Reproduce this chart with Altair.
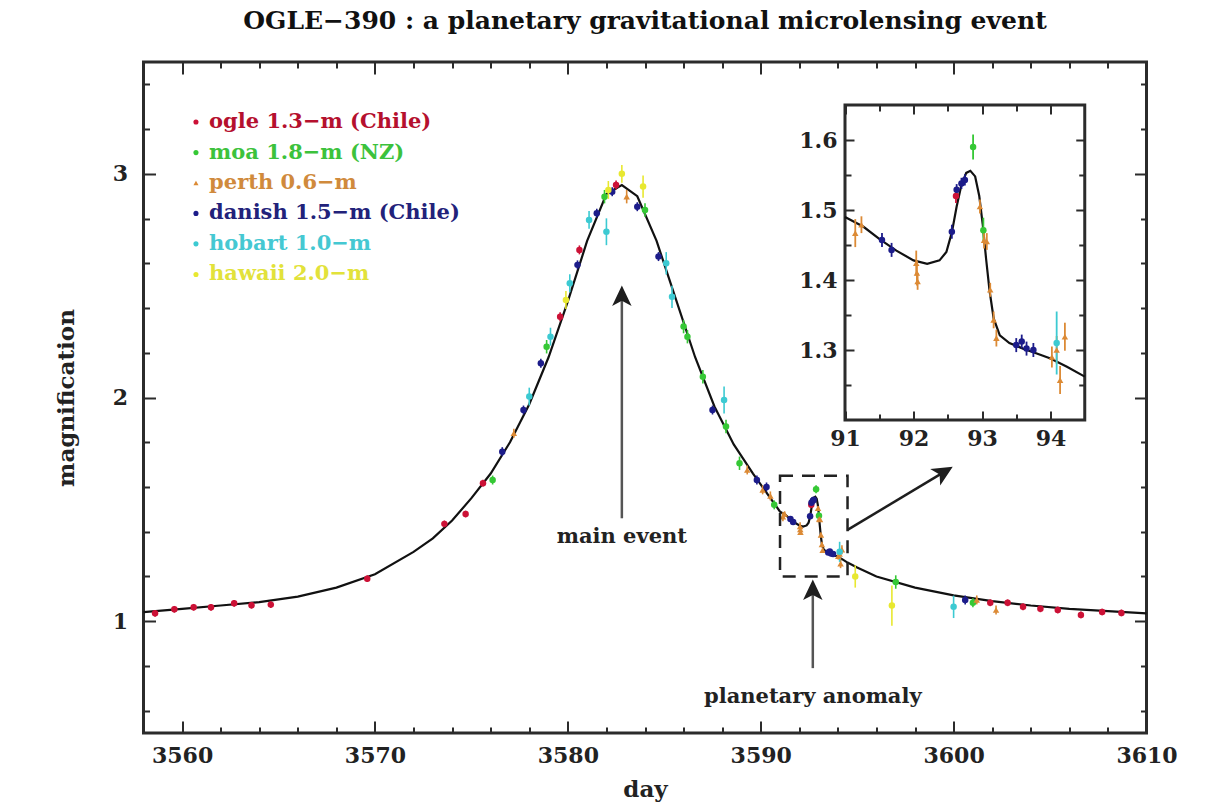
import altair as alt
import pandas as pd

TITLE = "OGLE\u2212390 : a planetary gravitational microlensing event"

series_names = ["ogle", "moa", "perth", "danish", "hobart", "hawaii"]
series_labels = ["ogle 1.3\u2212m (Chile)", "moa 1.8\u2212m (NZ)", "perth 0.6\u2212m",
                 "danish 1.5\u2212m (Chile)", "hobart 1.0\u2212m", "hawaii 2.0\u2212m"]
series_colors = ["#cc1136", "#35c835", "#dc8a35", "#1c1c8a", "#3ccad2", "#e8e830"]
label_colors = ["#b5102e", "#3cc23c", "#d08a3c", "#22227a", "#45c8d2", "#e2e23a"]
series_shapes = ["circle", "circle", "triangle-up", "circle", "circle", "circle"]

ogle_x = [3558.6, 3559.6, 3560.6, 3561.5, 3562.7, 3563.6, 3564.6, 3569.6, 3573.6, 3574.7, 3575.6, 3579.6,
          3580.6, 3582.5, 3592.62, 3601.9, 3602.8, 3603.6, 3604.5, 3605.4, 3606.6, 3607.7, 3608.7]
ogle_y = [1.035, 1.053, 1.062, 1.062, 1.080, 1.071, 1.074, 1.19, 1.435, 1.479, 1.617, 2.361,
          2.66, 2.95, 1.52, 1.082, 1.082, 1.064, 1.055, 1.05, 1.028, 1.041, 1.037]
ogle_e = [0.015, 0.015, 0.015, 0.015, 0.015, 0.015, 0.015, 0.015, 0.015, 0.015, 0.015, 0.02,
          0.02, 0.02, 0.01, 0.015, 0.015, 0.015, 0.015, 0.015, 0.015, 0.015, 0.015]

moa_x = [3576.1, 3578.9, 3581.9, 3584.0, 3586.0, 3586.2, 3587.0, 3588.2, 3588.9, 3590.7, 3592.87, 3593.02, 3597.0, 3601.0]
moa_y = [1.631, 2.227, 2.898, 2.838, 2.317, 2.272, 2.093, 1.87, 1.706, 1.52, 1.59, 1.471, 1.175, 1.082]
moa_e = [0.02, 0.03, 0.03, 0.03, 0.03, 0.03, 0.03, 0.03, 0.03, 0.02, 0.018, 0.018, 0.03, 0.02]

perth_x = [3577.2, 3583.05, 3589.3, 3590.1, 3590.5, 3591.15, 3591.24, 3592.04, 3592.05, 3592.06, 3592.97,
           3593.03, 3593.07, 3593.12, 3593.17, 3593.21, 3594.02, 3594.09, 3594.14, 3594.21, 3601.2, 3602.2]
perth_y = [1.84, 2.898, 1.676, 1.587, 1.56, 1.467, 1.479, 1.424, 1.41, 1.398, 1.505,
           1.457, 1.455, 1.386, 1.343, 1.317, 1.29, 1.30, 1.257, 1.319, 1.095, 1.05]
perth_e = [0.02, 0.03, 0.02, 0.02, 0.02, 0.02, 0.012, 0.018, 0.018, 0.012, 0.01,
           0.012, 0.012, 0.01, 0.012, 0.012, 0.015, 0.02, 0.02, 0.02, 0.02, 0.02]

danish_x = [3576.6, 3577.7, 3578.6, 3580.5, 3581.5, 3582.3, 3583.6, 3584.7, 3587.5, 3589.8, 3590.3,
            3591.54, 3591.68, 3592.56, 3592.63, 3592.70, 3592.75, 3593.5, 3593.58, 3593.65, 3593.75, 3600.6]
danish_y = [1.758, 1.944, 2.153, 2.593, 2.824, 2.92, 2.853, 2.63, 1.944, 1.631, 1.6,
            1.457, 1.443, 1.469, 1.529, 1.538, 1.543, 1.307, 1.312, 1.302, 1.30, 1.095]
danish_e = [0.02, 0.02, 0.02, 0.02, 0.02, 0.02, 0.02, 0.02, 0.02, 0.02, 0.02,
            0.01, 0.01, 0.01, 0.008, 0.008, 0.008, 0.01, 0.01, 0.01, 0.01, 0.02]

hobart_x = [3578.0, 3579.1, 3580.1, 3581.1, 3582.0, 3585.1, 3585.4, 3588.1, 3594.09, 3600.0]
hobart_y = [2.004, 2.272, 2.511, 2.794, 2.741, 2.60, 2.45, 1.989, 1.31, 1.064]
hobart_e = [0.04, 0.04, 0.04, 0.04, 0.06, 0.05, 0.05, 0.06, 0.045, 0.05]

hawaii_x = [3579.9, 3582.1, 3582.8, 3583.9, 3594.9, 3596.8]
hawaii_y = [2.436, 2.928, 3.0, 2.943, 1.2, 1.07]
hawaii_e = [0.04, 0.04, 0.04, 0.05, 0.05, 0.09]

curve_x = [3558, 3560, 3562, 3564, 3566, 3568, 3570, 3572, 3573, 3574, 3575, 3576, 3577, 3578, 3579, 3580,
           3581, 3582, 3582.8, 3583.6, 3584.6, 3585.6, 3586.6, 3587.6, 3588.6, 3589.6, 3590.5, 3591.0,
           3591.27, 3591.51, 3591.75, 3592.0, 3592.2, 3592.38, 3592.48, 3592.56, 3592.63, 3592.70, 3592.77,
           3592.83, 3592.90, 3592.96, 3593.01, 3593.06, 3593.11, 3593.17, 3593.26, 3593.4, 3593.6, 3593.8,
           3594.0, 3594.24, 3594.5, 3595, 3596, 3598, 3600, 3602, 3604, 3606, 3608, 3610]
curve_y = [1.04, 1.055, 1.07, 1.085, 1.11, 1.15, 1.21, 1.31, 1.37, 1.45, 1.55, 1.66, 1.80, 1.97, 2.18, 2.43,
           2.70, 2.91, 2.95, 2.90, 2.70, 2.44, 2.18, 1.96, 1.79, 1.66, 1.55, 1.49,
           1.476, 1.458, 1.442, 1.428, 1.423, 1.428, 1.44, 1.468, 1.505, 1.536, 1.553,
           1.556, 1.548, 1.52, 1.48, 1.43, 1.385, 1.345, 1.321, 1.31, 1.302, 1.295,
           1.288, 1.276, 1.262, 1.24, 1.20, 1.15, 1.115, 1.09, 1.07, 1.055, 1.045, 1.035]

x_major = [3560, 3570, 3580, 3590, 3600, 3610]
x_minor = [3562, 3564, 3566, 3568, 3572, 3574, 3576, 3578, 3582, 3584, 3586, 3588, 3592, 3594, 3596, 3598,
           3602, 3604, 3606, 3608]
y_major = [1, 2, 3]
y_minor = [0.6, 0.8, 1.2, 1.4, 1.6, 1.8, 2.2, 2.4, 2.6, 2.8, 3.2, 3.4]
ix_major = [91, 92, 93, 94]
ix_minor = [91.5, 92.5, 93.5]
iy_major = [1.3, 1.4, 1.5, 1.6]
iy_minor = [1.25, 1.35, 1.45, 1.55]

legend_marker_x = [3560.72]
legend_text_x = [3561.4]
legend_y = [3.232, 3.095, 2.959, 2.823, 2.687, 2.55]

ann_text = ["main event", "planetary anomaly"]
ann_text_x = [3582.8, 3592.7]
ann_text_y = [1.377, 0.661]
arrow_x = [3582.8, 3592.7]
arrow_y0 = [1.46, 0.79]
arrow_y1 = [2.44, 1.12]
head_x = [3582.8, 3592.7, 3599.5]
head_y = [2.455, 1.14, 1.667]
head_angle = [0, 0, 59]
link_x = [3594.5, 3599.6]
link_y = [1.408, 1.672]
box_x = [3591.0, 3594.5]
box_y = [1.2, 1.65]
inset_box_x = [91.0, 94.5]
inset_box_y = [1.2, 1.65]

# ---------------------------------------------------------------- layout
W, H = 1003, 671
IX0, IX1 = 701.5, 941.25
IY0, IY1 = 358, 43
FONT = "DejaVu Serif"
INK = "#2b2b2b"

rows = []
for name, xs, ys, es in zip(series_names,
                            [ogle_x, moa_x, perth_x, danish_x, hobart_x, hawaii_x],
                            [ogle_y, moa_y, perth_y, danish_y, hobart_y, hawaii_y],
                            [ogle_e, moa_e, perth_e, danish_e, hobart_e, hawaii_e]):
    for x, y, e in zip(xs, ys, es):
        rows.append({"series": name, "x": x, "y": y, "e": e})
pts = pd.DataFrame(rows)
curve = pd.DataFrame({"x": curve_x, "y": curve_y})

XS = alt.Scale(domain=[3558, 3610], nice=False, zero=False)
YS = alt.Scale(domain=[0.5, 3.5], nice=False, zero=False)
IXS = alt.Scale(domain=[91, 94.5], range=[IX0, IX1], nice=False, zero=False)
IYS = alt.Scale(domain=[1.2, 1.65], range=[IY0, IY1], nice=False, zero=False)
CS = alt.Scale(domain=series_names, range=series_colors)
SS = alt.Scale(domain=series_names, range=series_shapes)


def X(f, s=XS):
    return alt.X(f, type="quantitative", scale=s, axis=None)


def Y(f, s=YS):
    return alt.Y(f, type="quantitative", scale=s, axis=None)


def axis_layer(ch, values, scale, orient, ts, shift=0, labels=False, title="", fmt="", zindex=0,
               lpad=8, tpad=10):
    kw = dict(orient=orient, values=values, tickSize=ts, offset=-(shift + ts), domain=False, grid=False,
              labels=labels, ticks=True, tickColor=INK, tickWidth=2, zindex=zindex)
    if labels:
        kw.update(labelFont=FONT, labelFontSize=22, labelFontWeight="bold", labelColor="#222",
                  labelPadding=lpad, labelFlush=False, labelOverlap=False)
    if fmt:
        kw["format"] = fmt
    if title:
        kw.update(titleFont=FONT, titleFontSize=23, titleFontWeight="bold", titleColor="#222",
                  titlePadding=tpad)
    df = pd.DataFrame({"v": values})
    if ch == "x":
        enc = {"x": alt.X("v:Q", scale=scale, axis=alt.Axis(**kw), title=title)}
    else:
        enc = {"y": alt.Y("v:Q", scale=scale, axis=alt.Axis(**kw), title=title)}
    return alt.Chart(df).mark_point(opacity=0).encode(**enc)


# ---------------------------------------------------------------- main panel
curve_line = alt.Chart(curve).mark_line(color="#111", strokeWidth=2.2).encode(x=X("x"), y=Y("y"), order="x:Q")

err = alt.Chart(pts).transform_calculate(lo="datum.y - datum.e", hi="datum.y + datum.e").mark_rule(
    strokeWidth=1.6).encode(x=X("x"), y=Y("lo"), y2="hi:Q",
                            color=alt.Color("series:N", scale=CS, legend=None))
dots = alt.Chart(pts).mark_point(filled=True, size=42, opacity=1).encode(
    x=X("x"), y=Y("y"), color=alt.Color("series:N", scale=CS, legend=None),
    shape=alt.Shape("series:N", scale=SS, legend=None))

leg = pd.DataFrame({"series": series_names, "label": series_labels, "ly": legend_y,
                    "mx": legend_marker_x * 6, "tx": legend_text_x * 6})
leg_marks = alt.Chart(leg).mark_point(filled=True, size=26, opacity=1).encode(
    x=X("mx"), y=Y("ly"), color=alt.Color("series:N", scale=CS, legend=None),
    shape=alt.Shape("series:N", scale=SS, legend=None))
leg_text = alt.Chart(leg).mark_text(align="left", baseline="middle", font=FONT, fontSize=21,
                                    fontWeight="bold").encode(
    x=X("tx"), y=Y("ly"), text="label:N",
    color=alt.Color("series:N", scale=alt.Scale(domain=series_names, range=label_colors), legend=None))

ann = pd.DataFrame({"t": ann_text, "x": ann_text_x, "y": ann_text_y})
ann_layer = alt.Chart(ann).mark_text(font=FONT, fontSize=21, fontWeight="bold", color="#222",
                                     baseline="middle").encode(x=X("x"), y=Y("y"), text="t:N")
arr = pd.DataFrame({"x": arrow_x, "y0": arrow_y0, "y1": arrow_y1})
arr_layer = alt.Chart(arr).mark_rule(color="#555", strokeWidth=2.5).encode(x=X("x"), y=Y("y0"), y2="y1:Q")
heads = pd.DataFrame({"x": head_x, "y": head_y, "a": head_angle})
ARROW = "M0,-1L0.95,1L0,0.5L-0.95,1Z"
head_layer = alt.Chart(heads).mark_point(shape=ARROW, filled=True, size=420, color="#1e1e1e",
                                         opacity=1).encode(
    x=X("x"), y=Y("y"), angle=alt.Angle("a:Q", scale=None))
link = pd.DataFrame({"x": link_x, "y": link_y})
link_layer = alt.Chart(link).mark_line(color="#1e1e1e", strokeWidth=2.5).encode(x=X("x"), y=Y("y"))
box = pd.DataFrame({"x": [box_x[0]], "x2": [box_x[1]], "y": [box_y[0]], "y2": [box_y[1]]})
box_layer = alt.Chart(box).mark_rect(fillOpacity=0, stroke="#222", strokeWidth=2.5,
                                     strokeDash=[13, 9]).encode(
    x=X("x"), x2="x2:Q", y=Y("y"), y2="y2:Q")

main_axes = [
    axis_layer("x", x_major, XS, "bottom", 12, labels=True, title="day", fmt="d", lpad=12, tpad=12),
    axis_layer("x", x_minor, XS, "bottom", 6),
    axis_layer("x", x_major, XS, "top", 12),
    axis_layer("x", x_minor, XS, "top", 6),
    axis_layer("y", y_major, YS, "left", 12, labels=True, title="magnification", fmt="d", lpad=16, tpad=34),
    axis_layer("y", y_minor, YS, "left", 6),
    axis_layer("y", y_major, YS, "right", 12),
    axis_layer("y", y_minor, YS, "right", 6),
]

# ---------------------------------------------------------------- inset
ibox = pd.DataFrame({"x": [inset_box_x[0]], "x2": [inset_box_x[1]], "y": [inset_box_y[0]], "y2": [inset_box_y[1]]})
inset_frame = alt.Chart(ibox).mark_rect(fill="white", stroke=INK, strokeWidth=3).encode(
    x=X("x", IXS), x2="x2:Q", y=Y("y", IYS), y2="y2:Q")
icurve = alt.Chart(curve).transform_calculate(xi="datum.x - 3500").transform_filter(
    "datum.xi >= 91 && datum.xi <= 94.5").mark_line(color="#111", strokeWidth=2.2).encode(
    x=X("xi", IXS), y=Y("y", IYS), order="xi:Q")
ipts = alt.Chart(pts).transform_calculate(xi="datum.x - 3500", lo="datum.y - datum.e",
                                          hi="datum.y + datum.e").transform_filter(
    "datum.xi >= 91 && datum.xi <= 94.5 && datum.y >= 1.2 && datum.y <= 1.65")
ierr = ipts.mark_rule(strokeWidth=1.8).encode(x=X("xi", IXS), y=Y("lo", IYS), y2="hi:Q",
                                             color=alt.Color("series:N", scale=CS, legend=None))
idots = ipts.mark_point(filled=True, size=42, opacity=1).encode(
    x=X("xi", IXS), y=Y("y", IYS), color=alt.Color("series:N", scale=CS, legend=None),
    shape=alt.Shape("series:N", scale=SS, legend=None))

inset_axes = [
    axis_layer("x", ix_major, IXS, "bottom", 9, shift=H - IY0, labels=True, fmt="d", zindex=2, lpad=8),
    axis_layer("x", ix_minor, IXS, "bottom", 6, shift=H - IY0, zindex=2),
    axis_layer("x", ix_major, IXS, "top", 9, shift=IY1, zindex=2),
    axis_layer("x", ix_minor, IXS, "top", 6, shift=IY1, zindex=2),
    axis_layer("y", iy_major, IYS, "left", 9, shift=IX0, labels=True, fmt=".1f", zindex=2, lpad=8),
    axis_layer("y", iy_minor, IYS, "left", 6, shift=IX0, zindex=2),
    axis_layer("y", iy_major, IYS, "right", 9, shift=W - IX1, zindex=2),
    axis_layer("y", iy_minor, IYS, "right", 6, shift=W - IX1, zindex=2),
]

chart = alt.layer(
    *main_axes, curve_line, err, dots, leg_marks, leg_text, ann_layer, arr_layer, link_layer, box_layer,
    head_layer, inset_frame, icurve, ierr, idots, *inset_axes
).resolve_scale(
    x="independent", y="independent", color="independent", shape="independent"
).properties(
    width=W, height=H,
    title=alt.TitleParams(TITLE, font=FONT, fontSize=25, fontWeight="bold", color="#111",
                          anchor="middle", offset=27),
    autosize=alt.AutoSizeParams(type="none"),
    padding={"left": 143.5, "top": 62, "right": 71.5, "bottom": 74},
    background="white",
).configure_view(stroke=INK, strokeWidth=3)

chart.save("out.html", embed_options={"renderer": "svg", "actions": False})
